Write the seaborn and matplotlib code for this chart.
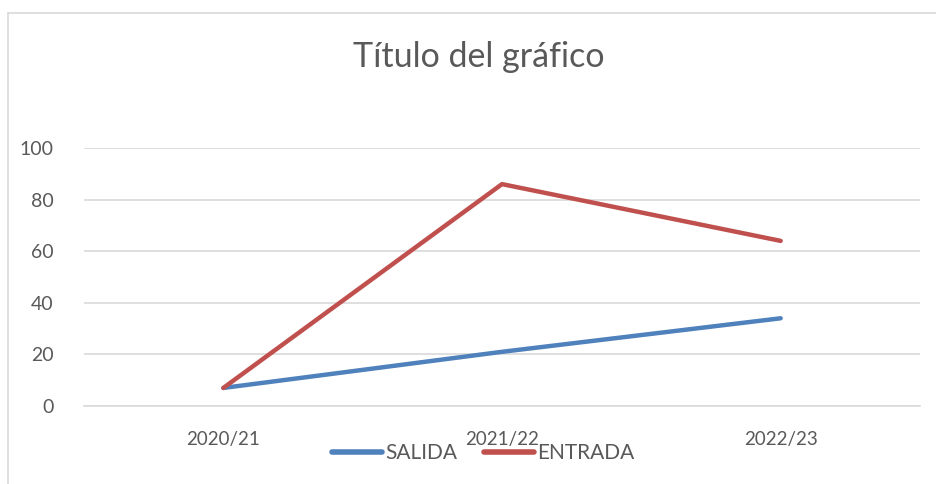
import matplotlib
matplotlib.use("Agg")
import matplotlib.pyplot as plt
from matplotlib.lines import Line2D
import pandas as pd
import seaborn as sns

# datos del gráfico
temporadas = ["2020/21", "2021/22", "2022/23"]
salida = [7, 21, 34]
entrada = [7, 86, 64]

df = pd.DataFrame({
    "temporada": temporadas * 2,
    "valor": salida + entrada,
    "serie": ["SALIDA"] * 3 + ["ENTRADA"] * 3,
})

sns.set_style("white")
plt.rcParams["font.family"] = ["Lato", "DejaVu Sans"]
gris = "#595959"

fig = plt.figure(figsize=(9.36, 4.84), dpi=100)
ax = fig.add_axes([84 / 936, 1 - 406 / 484, 836 / 936, 258 / 484])

colores = {"SALIDA": "#4F81BD", "ENTRADA": "#C0504D"}
sns.lineplot(data=df, x="temporada", y="valor", hue="serie", palette=colores,
             linewidth=3.2, sort=False, ax=ax, legend=False,
             solid_capstyle="round", solid_joinstyle="round")

ax.set_xlim(-0.5, 2.5)
ax.set_ylim(0, 100)
ax.set_yticks(range(0, 101, 20))
ax.yaxis.grid(True, color="#D9D9D9", linewidth=1.2)
ax.set_axisbelow(True)
for s in ["top", "right", "left"]:
    ax.spines[s].set_visible(False)
ax.spines["bottom"].set_color("#D9D9D9")
ax.spines["bottom"].set_linewidth(1.2)
ax.tick_params(axis="both", length=0, colors=gris)
ax.tick_params(axis="y", pad=22, labelsize=14)
ax.tick_params(axis="x", pad=18, labelsize=13.5)
ax.set_xlabel("")
ax.set_ylabel("")

fig.text(0.512, 1 - 57 / 484, "Título del gráfico", ha="center", va="center",
         fontsize=24.5, color=gris)

# leyenda abajo
handles = [Line2D([], [], color=colores[k], linewidth=4, solid_capstyle="round") for k in ["SALIDA", "ENTRADA"]]
leg = fig.legend(handles, ["SALIDA", "ENTRADA"], loc="center", bbox_to_anchor=(483 / 936, 1 - 453 / 484),
                 ncol=2, frameon=False, fontsize=15, handlelength=2.4, handletextpad=0.15,
                 columnspacing=1.3, labelcolor=gris)

# borde del gráfico
fig.add_artist(plt.Line2D([8 / 936, 8 / 936], [0, 1 - 13 / 484], transform=fig.transFigure,
                          color="#D9D9D9", linewidth=1.2))
fig.add_artist(plt.Line2D([8 / 936, 1], [1 - 13 / 484, 1 - 13 / 484], transform=fig.transFigure,
                          color="#D9D9D9", linewidth=1.2))

fig.savefig("out.png", dpi=100)
